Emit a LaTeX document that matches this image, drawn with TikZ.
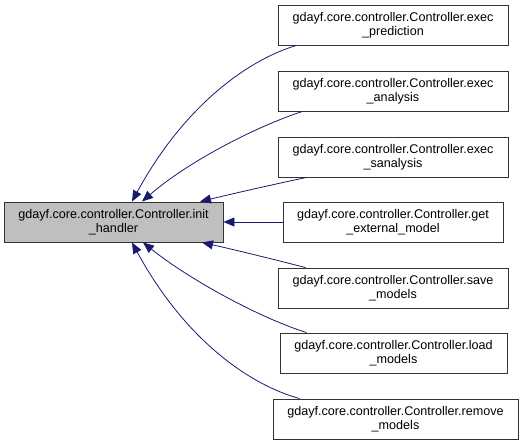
\documentclass[tikz,border=0pt]{standalone}
\usepackage{fontspec}
\setmainfont{Liberation Sans}
\usetikzlibrary{arrows.meta}
\definecolor{edgeblue}{HTML}{191970}
\definecolor{boxgray}{HTML}{BFBFBF}
\tikzset{
  box/.style={draw=black!80, line width=0.9pt, fill=white, minimum height=40pt, inner sep=0pt,
    align=center, font=\fontsize{12.6}{14.5}\selectfont},
  mainbox/.style={box, fill=boxgray},
  edge/.style={draw=edgeblue, line width=0.8pt, {Triangle[length=11pt,width=9pt]}-},
}
\begin{document}
\begin{tikzpicture}[x=1pt,y=-1pt]
\useasboundingbox (0,0) rectangle (520,444);
\node[mainbox, minimum width=219pt] (main) at (113.5,222) {gdayf.core.controller.Controller.init\\\_handler};
\node[box, minimum width=230pt] (pred) at (393,25) {gdayf.core.controller.Controller.exec\\\_prediction};
\node[box, minimum width=230pt] (anal) at (393,91) {gdayf.core.controller.Controller.exec\\\_analysis};
\node[box, minimum width=230pt] (sanal) at (393,157) {gdayf.core.controller.Controller.exec\\\_sanalysis};
\node[box, minimum width=220pt] (ext) at (393,222) {gdayf.core.controller.Controller.get\\\_external\_model};
\node[box, minimum width=230pt] (save) at (393,288) {gdayf.core.controller.Controller.save\\\_models};
\node[box, minimum width=227pt] (load) at (393.5,353) {gdayf.core.controller.Controller.load\\\_models};
\node[box, minimum width=245pt] (remove) at (395.5,419) {gdayf.core.controller.Controller.remove\\\_models};

\draw[edge] ([xshift=18.5pt]main.north) .. controls (185,104) and (250,59) .. ([xshift=19pt]pred.south west);
\draw[edge] ([xshift=28.5pt]main.north) .. controls (190,160) and (260,125) .. ([xshift=25pt]anal.south west);
\draw[edge] ([xshift=86.5pt]main.north) .. controls (240,192) and (280,183) .. ([xshift=29pt]sanal.south west);
\draw[edge] (main.east) -- (ext.west);
\draw[edge] ([xshift=88.5pt]main.south) .. controls (240,251) and (280,261) .. ([xshift=28pt]save.north west);
\draw[edge] ([xshift=29.5pt]main.south) .. controls (190,280) and (260,318) .. ([xshift=27pt]load.north west);
\draw[edge] ([xshift=18.5pt]main.south) .. controls (185,340) and (250,385) .. ([xshift=27pt]remove.north west);
\end{tikzpicture}
\end{document}
